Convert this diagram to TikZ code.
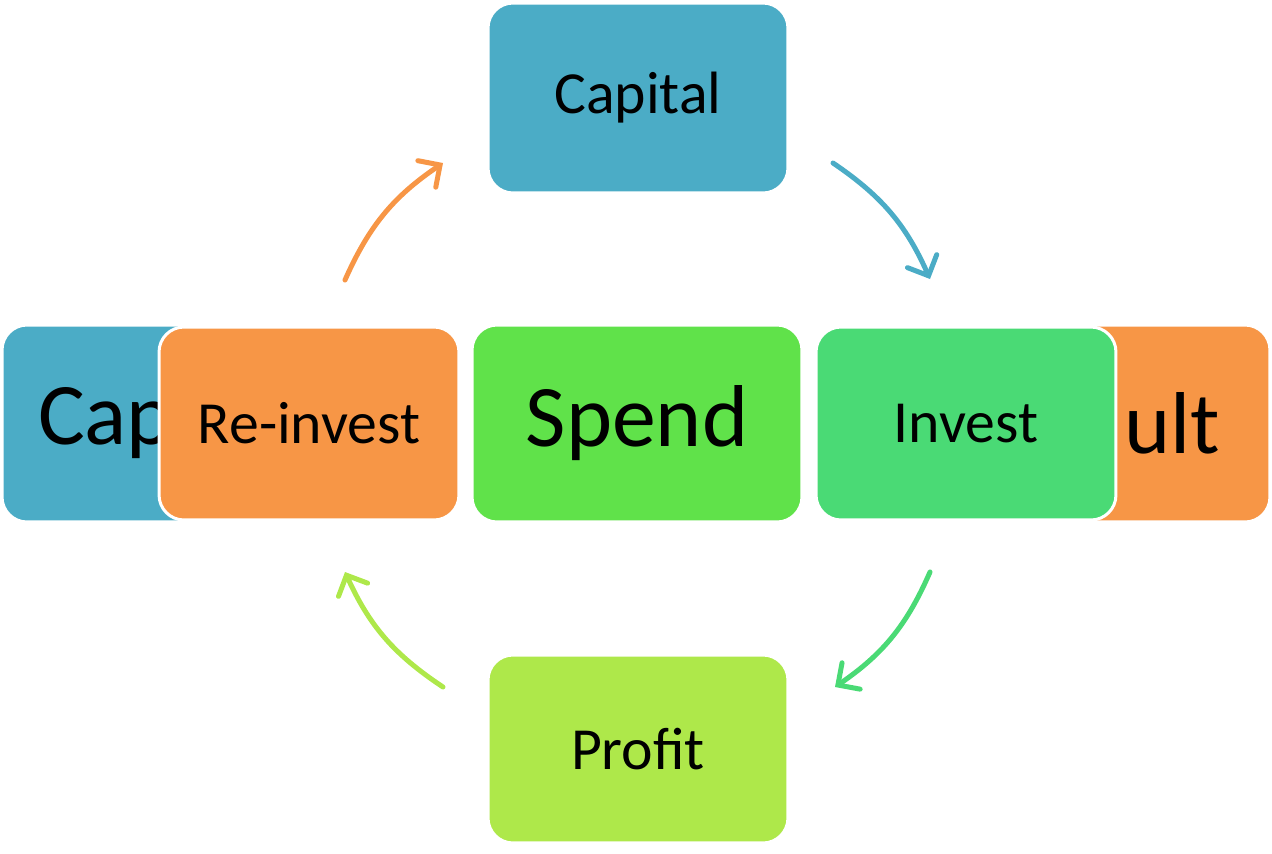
\documentclass[tikz,border=0pt]{standalone}
\usepackage{fontspec}
\setmainfont{Carlito}
\usetikzlibrary{arrows.meta}
\definecolor{capblue}{HTML}{4BACC6}
\definecolor{reorange}{HTML}{F79646}
\definecolor{spendgreen}{HTML}{60E24A}
\definecolor{investgreen}{HTML}{4ADA75}
\definecolor{profitgreen}{HTML}{AEE84A}

\begin{document}
\begin{tikzpicture}[x=0.02cm, y=-0.02cm,
  box/.style={draw=white, line width=0.06cm, rounded corners=0.5cm, inner sep=0pt,
    minimum width=6cm, minimum height=3.86cm, font=\fontsize{34}{40}\selectfont},
  bigbox/.style={box, font=\fontsize{50}{60}\selectfont},
  cyclearrow/.style={line width=0.1cm, line cap=round, bend left=16,
    -{Straight Barb[length=0.32cm, width=0.64cm, line cap=round]}}]
\useasboundingbox (0,0) rectangle (1272,853);

% boxes at the back
\node[bigbox, fill=capblue, minimum width=5.96cm, minimum height=3.94cm,
  text width=4.52cm, align=left] (capback) at (151,423.5) {Cap};
\node[bigbox, fill=reorange, minimum width=6.4cm, minimum height=3.94cm,
  text width=4.4cm, align=right] (resultback) at (1110,423.5) {ult};

% cycle
\node[box, fill=capblue, minimum height=3.8cm] (capital) at (638,98) {Capital};
\node[box, fill=reorange] (reinvest) at (309,423.5) {Re-invest};
\node[bigbox, fill=spendgreen, minimum width=6.6cm, minimum height=3.94cm] (spend) at (637,423.5) {Spend};
\node[box, fill=investgreen] (invest) at (966,423.5) {Invest};
\node[box, fill=profitgreen, minimum height=3.76cm] (profit) at (638,749) {Profit};

% arrow ends
\coordinate (reinvest-out) at (345,280);
\coordinate (capital-in) at (443,163);
\coordinate (capital-out) at (833,163);
\coordinate (invest-in) at (930,279);
\coordinate (invest-out) at (930,572);
\coordinate (profit-in) at (835,687);
\coordinate (profit-out) at (443,687);
\coordinate (reinvest-in) at (345,572);

% arrows
\draw[cyclearrow, reorange] (reinvest-out) to (capital-in);
\draw[cyclearrow, capblue] (capital-out) to (invest-in);
\draw[cyclearrow, investgreen] (invest-out) to (profit-in);
\draw[cyclearrow, profitgreen] (profit-out) to (reinvest-in);
\end{tikzpicture}
\end{document}
